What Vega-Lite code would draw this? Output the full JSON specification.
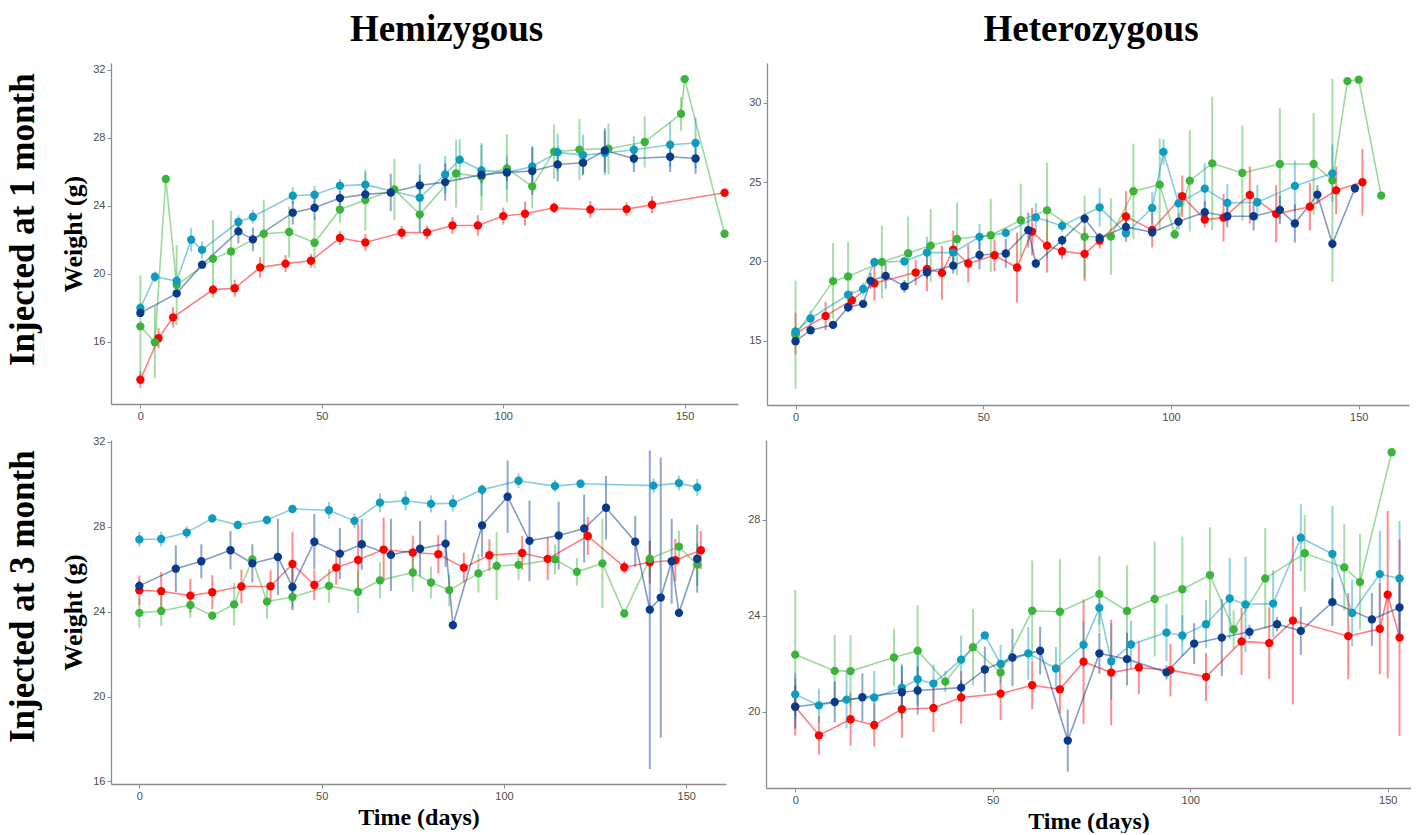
{
"$schema":"https://vega.github.io/schema/vega-lite/v6.json",
"background":"white",
"padding":{"left":5,"top":11,"right":0,"bottom":0},
"config":{"view":{"stroke":null},
"axis":{"grid":false,"domainColor":"#8c8c8c","domainWidth":1.3,"tickColor":"#8c8c8c","tickSize":4,"labelColor":"#4d4d4d","labelFont":"Liberation Sans","labelFontSize":11,"labelPadding":2,"titleFont":"Liberation Serif","titleFontWeight":"bold","titleColor":"black"},
"axisY":{"titleFontSize":26,"titlePadding":6},
"axisX":{"titleFontSize":24,"titlePadding":4},
"title":{"font":"Liberation Serif","fontWeight":"bold","color":"black"}},
"datasets":{"all":[
{"p":"TL","g":"Red","d":0,"w":13.76,"e":0.5},{"p":"TL","g":"Red","d":5,"w":16.2,"e":0.6},{"p":"TL","g":"Red","d":9,"w":17.43,"e":0.6},{"p":"TL","g":"Red","d":20,"w":19.06,"e":0.3},{"p":"TL","g":"Red","d":26,"w":19.14,"e":0.5},{"p":"TL","g":"Red","d":33,"w":20.37,"e":0.6},{"p":"TL","g":"Red","d":40,"w":20.59,"e":0.5},{"p":"TL","g":"Red","d":47,"w":20.76,"e":0.4},{"p":"TL","g":"Red","d":55,"w":22.1,"e":0.4},{"p":"TL","g":"Red","d":62,"w":21.84,"e":0.5},{"p":"TL","g":"Red","d":72,"w":22.41,"e":0.4},{"p":"TL","g":"Red","d":79,"w":22.43,"e":0.4},{"p":"TL","g":"Red","d":86,"w":22.84,"e":0.5},{"p":"TL","g":"Red","d":93,"w":22.84,"e":0.6},{"p":"TL","g":"Red","d":100,"w":23.39,"e":0.5},{"p":"TL","g":"Red","d":106,"w":23.53,"e":0.7},{"p":"TL","g":"Red","d":114,"w":23.88,"e":0.3},{"p":"TL","g":"Red","d":124,"w":23.78,"e":0.5},{"p":"TL","g":"Red","d":134,"w":23.8,"e":0.4},{"p":"TL","g":"Red","d":141,"w":24.06,"e":0.5},{"p":"TL","g":"Red","d":161,"w":24.76,"e":0.2},
{"p":"TL","g":"Green","d":0,"w":16.9,"e":3.0},{"p":"TL","g":"Green","d":4,"w":15.96,"e":2.1},{"p":"TL","g":"Green","d":7,"w":25.57,"e":0.2},{"p":"TL","g":"Green","d":10,"w":19.33,"e":2.35},{"p":"TL","g":"Green","d":20,"w":20.88,"e":2.3},{"p":"TL","g":"Green","d":25,"w":21.31,"e":2.4},{"p":"TL","g":"Green","d":34,"w":22.35,"e":2.0},{"p":"TL","g":"Green","d":41,"w":22.45,"e":1.5},{"p":"TL","g":"Green","d":48,"w":21.82,"e":1.5},{"p":"TL","g":"Green","d":55,"w":23.78,"e":0.8},{"p":"TL","g":"Green","d":62,"w":24.33,"e":1.8},{"p":"TL","g":"Green","d":70,"w":24.96,"e":1.8},{"p":"TL","g":"Green","d":77,"w":23.49,"e":1.1},{"p":"TL","g":"Green","d":87,"w":25.9,"e":2.0},{"p":"TL","g":"Green","d":94,"w":25.7,"e":2.0},{"p":"TL","g":"Green","d":101,"w":26.2,"e":2.0},{"p":"TL","g":"Green","d":108,"w":25.14,"e":1.3},{"p":"TL","g":"Green","d":114,"w":27.18,"e":1.6},{"p":"TL","g":"Green","d":121,"w":27.3,"e":1.8},{"p":"TL","g":"Green","d":129,"w":27.35,"e":1.5},{"p":"TL","g":"Green","d":139,"w":27.75,"e":1.5},{"p":"TL","g":"Green","d":149,"w":29.41,"e":1.0},{"p":"TL","g":"Green","d":150,"w":31.45,"e":0},{"p":"TL","g":"Green","d":161,"w":22.35,"e":0},
{"p":"TL","g":"Cyan","d":0,"w":17.98,"e":0.3},{"p":"TL","g":"Cyan","d":4,"w":19.82,"e":0.3},{"p":"TL","g":"Cyan","d":10,"w":19.57,"e":0.3},{"p":"TL","g":"Cyan","d":14,"w":22.0,"e":0.7},{"p":"TL","g":"Cyan","d":17,"w":21.4,"e":0.5},{"p":"TL","g":"Cyan","d":27,"w":23.04,"e":0.4},{"p":"TL","g":"Cyan","d":31,"w":23.35,"e":0.4},{"p":"TL","g":"Cyan","d":42,"w":24.59,"e":0.5},{"p":"TL","g":"Cyan","d":48,"w":24.65,"e":0.5},{"p":"TL","g":"Cyan","d":55,"w":25.18,"e":0.4},{"p":"TL","g":"Cyan","d":62,"w":25.24,"e":0.7},{"p":"TL","g":"Cyan","d":77,"w":24.47,"e":2.0},{"p":"TL","g":"Cyan","d":84,"w":25.84,"e":1.1},{"p":"TL","g":"Cyan","d":88,"w":26.71,"e":1.2},{"p":"TL","g":"Cyan","d":94,"w":26.08,"e":1.5},{"p":"TL","g":"Cyan","d":101,"w":25.96,"e":1.0},{"p":"TL","g":"Cyan","d":108,"w":26.31,"e":1.2},{"p":"TL","g":"Cyan","d":115,"w":27.14,"e":1.1},{"p":"TL","g":"Cyan","d":122,"w":26.98,"e":1.2},{"p":"TL","g":"Cyan","d":128,"w":27.1,"e":1.3},{"p":"TL","g":"Cyan","d":136,"w":27.29,"e":0.8},{"p":"TL","g":"Cyan","d":146,"w":27.59,"e":1.3},{"p":"TL","g":"Cyan","d":153,"w":27.69,"e":1.5},
{"p":"TL","g":"Navy","d":0,"w":17.69,"e":0.2},{"p":"TL","g":"Navy","d":10,"w":18.84,"e":0.2},{"p":"TL","g":"Navy","d":17,"w":20.53,"e":0.2},{"p":"TL","g":"Navy","d":27,"w":22.49,"e":0.7},{"p":"TL","g":"Navy","d":31,"w":22.02,"e":0.7},{"p":"TL","g":"Navy","d":42,"w":23.59,"e":0.7},{"p":"TL","g":"Navy","d":48,"w":23.88,"e":0.7},{"p":"TL","g":"Navy","d":55,"w":24.45,"e":0.4},{"p":"TL","g":"Navy","d":62,"w":24.67,"e":0.4},{"p":"TL","g":"Navy","d":69,"w":24.78,"e":1.1},{"p":"TL","g":"Navy","d":77,"w":25.2,"e":0.6},{"p":"TL","g":"Navy","d":84,"w":25.39,"e":1.1},{"p":"TL","g":"Navy","d":94,"w":25.82,"e":0.5},{"p":"TL","g":"Navy","d":101,"w":25.96,"e":0.5},{"p":"TL","g":"Navy","d":108,"w":26.04,"e":1.4},{"p":"TL","g":"Navy","d":115,"w":26.43,"e":1.0},{"p":"TL","g":"Navy","d":122,"w":26.53,"e":0.7},{"p":"TL","g":"Navy","d":128,"w":27.25,"e":1.3},{"p":"TL","g":"Navy","d":136,"w":26.78,"e":0.8},{"p":"TL","g":"Navy","d":146,"w":26.88,"e":0.9},{"p":"TL","g":"Navy","d":153,"w":26.78,"e":0.9},
{"p":"TR","g":"Red","d":0,"w":15.46,"e":1.3},{"p":"TR","g":"Red","d":8,"w":16.57,"e":0.9},{"p":"TR","g":"Red","d":15,"w":17.56,"e":0.6},{"p":"TR","g":"Red","d":21,"w":18.63,"e":1.1},{"p":"TR","g":"Red","d":32,"w":19.3,"e":0.8},{"p":"TR","g":"Red","d":35,"w":19.53,"e":1.4},{"p":"TR","g":"Red","d":39,"w":19.28,"e":1.7},{"p":"TR","g":"Red","d":42,"w":20.75,"e":1.2},{"p":"TR","g":"Red","d":46,"w":19.87,"e":1.2},{"p":"TR","g":"Red","d":53,"w":20.39,"e":1.0},{"p":"TR","g":"Red","d":59,"w":19.62,"e":2.2},{"p":"TR","g":"Red","d":63,"w":21.88,"e":1.5},{"p":"TR","g":"Red","d":67,"w":21.0,"e":1.7},{"p":"TR","g":"Red","d":71,"w":20.64,"e":0.5},{"p":"TR","g":"Red","d":77,"w":20.48,"e":1.7},{"p":"TR","g":"Red","d":81,"w":21.32,"e":0.5},{"p":"TR","g":"Red","d":88,"w":22.83,"e":1.6},{"p":"TR","g":"Red","d":95,"w":21.99,"e":1.1},{"p":"TR","g":"Red","d":103,"w":24.11,"e":1.3},{"p":"TR","g":"Red","d":109,"w":22.64,"e":0.5},{"p":"TR","g":"Red","d":114,"w":22.76,"e":1.5},{"p":"TR","g":"Red","d":121,"w":24.19,"e":1.8},{"p":"TR","g":"Red","d":128,"w":23.0,"e":1.8},{"p":"TR","g":"Red","d":137,"w":23.45,"e":1.5},{"p":"TR","g":"Red","d":144,"w":24.48,"e":1.5},{"p":"TR","g":"Red","d":151,"w":24.99,"e":2.1},
{"p":"TR","g":"Green","d":0,"w":15.38,"e":3.4},{"p":"TR","g":"Green","d":10,"w":18.76,"e":2.4},{"p":"TR","g":"Green","d":14,"w":19.05,"e":2.2},{"p":"TR","g":"Green","d":23,"w":19.97,"e":2.3},{"p":"TR","g":"Green","d":30,"w":20.52,"e":2.3},{"p":"TR","g":"Green","d":36,"w":21.0,"e":2.3},{"p":"TR","g":"Green","d":43,"w":21.42,"e":2.3},{"p":"TR","g":"Green","d":52,"w":21.65,"e":2.3},{"p":"TR","g":"Green","d":60,"w":22.6,"e":2.3},{"p":"TR","g":"Green","d":67,"w":23.22,"e":3.0},{"p":"TR","g":"Green","d":77,"w":21.55,"e":2.6},{"p":"TR","g":"Green","d":84,"w":21.57,"e":2.4},{"p":"TR","g":"Green","d":90,"w":24.42,"e":3.0},{"p":"TR","g":"Green","d":97,"w":24.84,"e":2.9},{"p":"TR","g":"Green","d":101,"w":21.71,"e":0.3},{"p":"TR","g":"Green","d":105,"w":25.09,"e":3.2},{"p":"TR","g":"Green","d":111,"w":26.18,"e":4.2},{"p":"TR","g":"Green","d":119,"w":25.57,"e":3.0},{"p":"TR","g":"Green","d":129,"w":26.14,"e":3.5},{"p":"TR","g":"Green","d":138,"w":26.14,"e":3.2},{"p":"TR","g":"Green","d":143,"w":25.11,"e":6.4},{"p":"TR","g":"Green","d":147,"w":31.36,"e":0},{"p":"TR","g":"Green","d":150,"w":31.45,"e":0},{"p":"TR","g":"Green","d":156,"w":24.15,"e":0},
{"p":"TR","g":"Cyan","d":0,"w":15.59,"e":0.3},{"p":"TR","g":"Cyan","d":4,"w":16.41,"e":0.5},{"p":"TR","g":"Cyan","d":14,"w":17.9,"e":0.3},{"p":"TR","g":"Cyan","d":18,"w":18.27,"e":0.4},{"p":"TR","g":"Cyan","d":21,"w":19.95,"e":0.3},{"p":"TR","g":"Cyan","d":29,"w":20.01,"e":0.3},{"p":"TR","g":"Cyan","d":35,"w":20.56,"e":1.0},{"p":"TR","g":"Cyan","d":42,"w":20.56,"e":0.7},{"p":"TR","g":"Cyan","d":49,"w":21.55,"e":0.8},{"p":"TR","g":"Cyan","d":56,"w":21.8,"e":0.3},{"p":"TR","g":"Cyan","d":64,"w":22.78,"e":0.9},{"p":"TR","g":"Cyan","d":71,"w":22.24,"e":0.4},{"p":"TR","g":"Cyan","d":81,"w":23.41,"e":1.2},{"p":"TR","g":"Cyan","d":88,"w":21.78,"e":0.3},{"p":"TR","g":"Cyan","d":95,"w":23.37,"e":1.0},{"p":"TR","g":"Cyan","d":98,"w":26.9,"e":0.8},{"p":"TR","g":"Cyan","d":102,"w":23.66,"e":0.7},{"p":"TR","g":"Cyan","d":109,"w":24.59,"e":1.6},{"p":"TR","g":"Cyan","d":115,"w":23.69,"e":1.2},{"p":"TR","g":"Cyan","d":123,"w":23.73,"e":1.1},{"p":"TR","g":"Cyan","d":133,"w":24.76,"e":1.6},{"p":"TR","g":"Cyan","d":143,"w":25.55,"e":1.8},
{"p":"TR","g":"Navy","d":0,"w":14.98,"e":0.2},{"p":"TR","g":"Navy","d":4,"w":15.67,"e":0.2},{"p":"TR","g":"Navy","d":10,"w":16.01,"e":0.2},{"p":"TR","g":"Navy","d":14,"w":17.12,"e":0.3},{"p":"TR","g":"Navy","d":18,"w":17.33,"e":0.2},{"p":"TR","g":"Navy","d":20,"w":18.78,"e":0.5},{"p":"TR","g":"Navy","d":24,"w":19.09,"e":0.8},{"p":"TR","g":"Navy","d":29,"w":18.44,"e":0.4},{"p":"TR","g":"Navy","d":35,"w":19.32,"e":0.4},{"p":"TR","g":"Navy","d":42,"w":19.74,"e":0.5},{"p":"TR","g":"Navy","d":49,"w":20.41,"e":0.9},{"p":"TR","g":"Navy","d":56,"w":20.5,"e":0.9},{"p":"TR","g":"Navy","d":62,"w":21.97,"e":1.1},{"p":"TR","g":"Navy","d":64,"w":19.87,"e":0.3},{"p":"TR","g":"Navy","d":71,"w":21.34,"e":0.3},{"p":"TR","g":"Navy","d":77,"w":22.7,"e":0.3},{"p":"TR","g":"Navy","d":81,"w":21.48,"e":0.3},{"p":"TR","g":"Navy","d":88,"w":22.18,"e":0.4},{"p":"TR","g":"Navy","d":95,"w":21.84,"e":0.3},{"p":"TR","g":"Navy","d":102,"w":22.51,"e":0.5},{"p":"TR","g":"Navy","d":109,"w":23.1,"e":0.7},{"p":"TR","g":"Navy","d":115,"w":22.85,"e":0.7},{"p":"TR","g":"Navy","d":122,"w":22.85,"e":0.9},{"p":"TR","g":"Navy","d":129,"w":23.25,"e":0.9},{"p":"TR","g":"Navy","d":133,"w":22.39,"e":1.2},{"p":"TR","g":"Navy","d":139,"w":24.21,"e":0.6},{"p":"TR","g":"Navy","d":143,"w":21.11,"e":0.3},{"p":"TR","g":"Navy","d":149,"w":24.61,"e":0.3},
{"p":"BL","g":"Red","d":0,"w":25.0,"e":0.7},{"p":"BL","g":"Red","d":6,"w":24.96,"e":0.9},{"p":"BL","g":"Red","d":14,"w":24.75,"e":0.8},{"p":"BL","g":"Red","d":20,"w":24.91,"e":0.8},{"p":"BL","g":"Red","d":28,"w":25.18,"e":0.8},{"p":"BL","g":"Red","d":36,"w":25.19,"e":0.75},{"p":"BL","g":"Red","d":42,"w":26.24,"e":1.5},{"p":"BL","g":"Red","d":48,"w":25.25,"e":0.7},{"p":"BL","g":"Red","d":54,"w":26.07,"e":0.8},{"p":"BL","g":"Red","d":60,"w":26.43,"e":1.7},{"p":"BL","g":"Red","d":67,"w":26.92,"e":1.5},{"p":"BL","g":"Red","d":75,"w":26.78,"e":0.8},{"p":"BL","g":"Red","d":82,"w":26.7,"e":0.9},{"p":"BL","g":"Red","d":89,"w":26.07,"e":0.7},{"p":"BL","g":"Red","d":96,"w":26.65,"e":0.75},{"p":"BL","g":"Red","d":105,"w":26.76,"e":0.8},{"p":"BL","g":"Red","d":112,"w":26.48,"e":1.0},{"p":"BL","g":"Red","d":123,"w":27.56,"e":0.9},{"p":"BL","g":"Red","d":133,"w":26.09,"e":0.3},{"p":"BL","g":"Red","d":140,"w":26.32,"e":1.0},{"p":"BL","g":"Red","d":147,"w":26.42,"e":1.0},{"p":"BL","g":"Red","d":154,"w":26.89,"e":0.9},
{"p":"BL","g":"Green","d":0,"w":23.94,"e":0.7},{"p":"BL","g":"Green","d":6,"w":24.03,"e":0.7},{"p":"BL","g":"Green","d":14,"w":24.31,"e":0.6},{"p":"BL","g":"Green","d":20,"w":23.81,"e":0.2},{"p":"BL","g":"Green","d":26,"w":24.34,"e":1.0},{"p":"BL","g":"Green","d":31,"w":26.45,"e":0.2},{"p":"BL","g":"Green","d":35,"w":24.47,"e":0.8},{"p":"BL","g":"Green","d":42,"w":24.69,"e":0.5},{"p":"BL","g":"Green","d":52,"w":25.21,"e":0.8},{"p":"BL","g":"Green","d":60,"w":24.93,"e":1.0},{"p":"BL","g":"Green","d":66,"w":25.47,"e":0.85},{"p":"BL","g":"Green","d":75,"w":25.84,"e":0.9},{"p":"BL","g":"Green","d":80,"w":25.37,"e":0.75},{"p":"BL","g":"Green","d":85,"w":25.01,"e":0.75},{"p":"BL","g":"Green","d":93,"w":25.8,"e":0.9},{"p":"BL","g":"Green","d":98,"w":26.15,"e":1.6},{"p":"BL","g":"Green","d":104,"w":26.2,"e":0.7},{"p":"BL","g":"Green","d":114,"w":26.46,"e":0.7},{"p":"BL","g":"Green","d":120,"w":25.87,"e":0.65},{"p":"BL","g":"Green","d":127,"w":26.27,"e":2.1},{"p":"BL","g":"Green","d":133,"w":23.91,"e":0.2},{"p":"BL","g":"Green","d":140,"w":26.49,"e":0.85},{"p":"BL","g":"Green","d":148,"w":27.06,"e":0.75},{"p":"BL","g":"Green","d":153,"w":26.21,"e":1.0},
{"p":"BL","g":"Cyan","d":0,"w":27.4,"e":0.35},{"p":"BL","g":"Cyan","d":6,"w":27.42,"e":0.35},{"p":"BL","g":"Cyan","d":13,"w":27.72,"e":0.3},{"p":"BL","g":"Cyan","d":20,"w":28.39,"e":0.2},{"p":"BL","g":"Cyan","d":27,"w":28.08,"e":0.2},{"p":"BL","g":"Cyan","d":35,"w":28.31,"e":0.2},{"p":"BL","g":"Cyan","d":42,"w":28.83,"e":0.2},{"p":"BL","g":"Cyan","d":52,"w":28.77,"e":0.4},{"p":"BL","g":"Cyan","d":59,"w":28.27,"e":0.35},{"p":"BL","g":"Cyan","d":66,"w":29.13,"e":0.45},{"p":"BL","g":"Cyan","d":73,"w":29.22,"e":0.45},{"p":"BL","g":"Cyan","d":80,"w":29.07,"e":0.4},{"p":"BL","g":"Cyan","d":86,"w":29.1,"e":0.4},{"p":"BL","g":"Cyan","d":94,"w":29.74,"e":0.25},{"p":"BL","g":"Cyan","d":104,"w":30.16,"e":0.35},{"p":"BL","g":"Cyan","d":114,"w":29.91,"e":0.3},{"p":"BL","g":"Cyan","d":121,"w":30.02,"e":0.2},{"p":"BL","g":"Cyan","d":141,"w":29.93,"e":0.35},{"p":"BL","g":"Cyan","d":148,"w":30.05,"e":0.35},{"p":"BL","g":"Cyan","d":153,"w":29.85,"e":0.4},
{"p":"BL","g":"Navy","d":0,"w":25.21,"e":0.25},{"p":"BL","g":"Navy","d":10,"w":26.02,"e":1.1},{"p":"BL","g":"Navy","d":17,"w":26.37,"e":0.8},{"p":"BL","g":"Navy","d":25,"w":26.89,"e":0.9},{"p":"BL","g":"Navy","d":31,"w":26.27,"e":0.9},{"p":"BL","g":"Navy","d":38,"w":26.57,"e":1.8},{"p":"BL","g":"Navy","d":42,"w":25.16,"e":1.1},{"p":"BL","g":"Navy","d":48,"w":27.29,"e":1.3},{"p":"BL","g":"Navy","d":55,"w":26.73,"e":1.2},{"p":"BL","g":"Navy","d":61,"w":27.17,"e":1.2},{"p":"BL","g":"Navy","d":69,"w":26.67,"e":1.7},{"p":"BL","g":"Navy","d":77,"w":26.96,"e":1.3},{"p":"BL","g":"Navy","d":84,"w":27.2,"e":1.1},{"p":"BL","g":"Navy","d":86,"w":23.36,"e":0.2},{"p":"BL","g":"Navy","d":94,"w":28.06,"e":1.5},{"p":"BL","g":"Navy","d":101,"w":29.41,"e":1.7},{"p":"BL","g":"Navy","d":107,"w":27.33,"e":1.9},{"p":"BL","g":"Navy","d":115,"w":27.58,"e":1.6},{"p":"BL","g":"Navy","d":122,"w":27.91,"e":1.6},{"p":"BL","g":"Navy","d":128,"w":28.89,"e":1.5},{"p":"BL","g":"Navy","d":136,"w":27.29,"e":1.2},{"p":"BL","g":"Navy","d":140,"w":24.09,"e":7.5},{"p":"BL","g":"Navy","d":143,"w":24.66,"e":6.6},{"p":"BL","g":"Navy","d":146,"w":26.37,"e":2.0},{"p":"BL","g":"Navy","d":148,"w":23.94,"e":0.2},{"p":"BL","g":"Navy","d":153,"w":26.49,"e":1.6},
{"p":"BR","g":"Red","d":0,"w":20.2,"e":1.2},{"p":"BR","g":"Red","d":6,"w":19.01,"e":0.8},{"p":"BR","g":"Red","d":14,"w":19.68,"e":1.1},{"p":"BR","g":"Red","d":20,"w":19.44,"e":0.9},{"p":"BR","g":"Red","d":27,"w":20.1,"e":1.2},{"p":"BR","g":"Red","d":35,"w":20.15,"e":1.0},{"p":"BR","g":"Red","d":42,"w":20.59,"e":1.1},{"p":"BR","g":"Red","d":52,"w":20.75,"e":1.1},{"p":"BR","g":"Red","d":60,"w":21.1,"e":1.0},{"p":"BR","g":"Red","d":67,"w":20.93,"e":1.0},{"p":"BR","g":"Red","d":73,"w":22.08,"e":2.6},{"p":"BR","g":"Red","d":80,"w":21.63,"e":2.2},{"p":"BR","g":"Red","d":87,"w":21.84,"e":1.1},{"p":"BR","g":"Red","d":95,"w":21.73,"e":1.1},{"p":"BR","g":"Red","d":104,"w":21.45,"e":1.0},{"p":"BR","g":"Red","d":113,"w":22.93,"e":1.4},{"p":"BR","g":"Red","d":120,"w":22.86,"e":1.5},{"p":"BR","g":"Red","d":126,"w":23.8,"e":3.5},{"p":"BR","g":"Red","d":140,"w":23.15,"e":1.8},{"p":"BR","g":"Red","d":148,"w":23.46,"e":1.9},{"p":"BR","g":"Red","d":150,"w":24.88,"e":3.5},{"p":"BR","g":"Red","d":153,"w":23.09,"e":4.1},
{"p":"BR","g":"Green","d":0,"w":22.38,"e":2.7},{"p":"BR","g":"Green","d":10,"w":21.7,"e":1.5},{"p":"BR","g":"Green","d":14,"w":21.69,"e":1.5},{"p":"BR","g":"Green","d":25,"w":22.26,"e":1.2},{"p":"BR","g":"Green","d":31,"w":22.54,"e":1.9},{"p":"BR","g":"Green","d":38,"w":21.25,"e":0.45},{"p":"BR","g":"Green","d":45,"w":22.69,"e":1.6},{"p":"BR","g":"Green","d":52,"w":21.63,"e":0.15},{"p":"BR","g":"Green","d":60,"w":24.21,"e":2.1},{"p":"BR","g":"Green","d":67,"w":24.17,"e":2.2},{"p":"BR","g":"Green","d":77,"w":24.91,"e":1.6},{"p":"BR","g":"Green","d":84,"w":24.2,"e":1.9},{"p":"BR","g":"Green","d":91,"w":24.7,"e":2.4},{"p":"BR","g":"Green","d":98,"w":25.11,"e":2.2},{"p":"BR","g":"Green","d":105,"w":25.7,"e":2.0},{"p":"BR","g":"Green","d":111,"w":23.43,"e":0.8},{"p":"BR","g":"Green","d":119,"w":25.56,"e":2.1},{"p":"BR","g":"Green","d":129,"w":26.61,"e":1.6},{"p":"BR","g":"Green","d":139,"w":26.02,"e":1.8},{"p":"BR","g":"Green","d":143,"w":25.41,"e":2.0},{"p":"BR","g":"Green","d":151,"w":30.83,"e":0},
{"p":"BR","g":"Cyan","d":0,"w":20.72,"e":0.9},{"p":"BR","g":"Cyan","d":6,"w":20.26,"e":0.7},{"p":"BR","g":"Cyan","d":13,"w":20.5,"e":1.2},{"p":"BR","g":"Cyan","d":20,"w":20.59,"e":1.1},{"p":"BR","g":"Cyan","d":27,"w":21.0,"e":1.0},{"p":"BR","g":"Cyan","d":31,"w":21.35,"e":1.1},{"p":"BR","g":"Cyan","d":35,"w":21.17,"e":0.8},{"p":"BR","g":"Cyan","d":42,"w":22.17,"e":1.0},{"p":"BR","g":"Cyan","d":48,"w":23.18,"e":0},{"p":"BR","g":"Cyan","d":52,"w":21.99,"e":0.8},{"p":"BR","g":"Cyan","d":59,"w":22.43,"e":1.1},{"p":"BR","g":"Cyan","d":66,"w":21.8,"e":0.9},{"p":"BR","g":"Cyan","d":73,"w":22.79,"e":1.0},{"p":"BR","g":"Cyan","d":77,"w":24.33,"e":0.7},{"p":"BR","g":"Cyan","d":80,"w":22.1,"e":1.6},{"p":"BR","g":"Cyan","d":85,"w":22.8,"e":1.0},{"p":"BR","g":"Cyan","d":94,"w":23.3,"e":1.2},{"p":"BR","g":"Cyan","d":98,"w":23.18,"e":0.85},{"p":"BR","g":"Cyan","d":104,"w":23.65,"e":1.0},{"p":"BR","g":"Cyan","d":110,"w":24.72,"e":1.7},{"p":"BR","g":"Cyan","d":114,"w":24.47,"e":2.0},{"p":"BR","g":"Cyan","d":121,"w":24.51,"e":1.4},{"p":"BR","g":"Cyan","d":128,"w":27.26,"e":1.4},{"p":"BR","g":"Cyan","d":136,"w":26.58,"e":2.0},{"p":"BR","g":"Cyan","d":141,"w":24.12,"e":1.4},{"p":"BR","g":"Cyan","d":148,"w":25.74,"e":1.8},{"p":"BR","g":"Cyan","d":153,"w":25.56,"e":2.4},
{"p":"BR","g":"Navy","d":0,"w":20.2,"e":0.9},{"p":"BR","g":"Navy","d":10,"w":20.4,"e":0.85},{"p":"BR","g":"Navy","d":17,"w":20.6,"e":1.0},{"p":"BR","g":"Navy","d":27,"w":20.81,"e":1.1},{"p":"BR","g":"Navy","d":31,"w":20.88,"e":1.0},{"p":"BR","g":"Navy","d":42,"w":21.0,"e":0.3},{"p":"BR","g":"Navy","d":48,"w":21.76,"e":0.95},{"p":"BR","g":"Navy","d":55,"w":22.26,"e":1.2},{"p":"BR","g":"Navy","d":62,"w":22.54,"e":1.0},{"p":"BR","g":"Navy","d":69,"w":18.79,"e":1.3},{"p":"BR","g":"Navy","d":77,"w":22.43,"e":0.85},{"p":"BR","g":"Navy","d":84,"w":22.19,"e":1.1},{"p":"BR","g":"Navy","d":94,"w":21.64,"e":0.3},{"p":"BR","g":"Navy","d":101,"w":22.84,"e":0.85},{"p":"BR","g":"Navy","d":108,"w":23.09,"e":1.6},{"p":"BR","g":"Navy","d":115,"w":23.33,"e":0.3},{"p":"BR","g":"Navy","d":122,"w":23.65,"e":0.3},{"p":"BR","g":"Navy","d":128,"w":23.37,"e":1.0},{"p":"BR","g":"Navy","d":136,"w":24.57,"e":1.0},{"p":"BR","g":"Navy","d":146,"w":23.85,"e":1.1},{"p":"BR","g":"Navy","d":153,"w":24.35,"e":1.1}
]},
"spacing":13,
"vconcat":[
{"title":{"text":"Injected at 1 month","orient":"left","fontSize":35,"offset":20,"dx":56},
 "spacing":10,
 "hconcat":[
 {"width":627,"height":341,"title":{"text":"Hemizygous","fontSize":37,"offset":14,"dx":22},
  "data":{"name":"all"},"transform":[{"filter":"datum.p==='TL'"}],
  "encoding":{
   "x":{"field":"d","type":"quantitative","scale":{"domain":[-8.1,164.7],"nice":false,"zero":false},"axis":{"values":[0,50,100,150],"title":null}},
   "y":{"field":"w","type":"quantitative","scale":{"domain":[12.33,32.4],"nice":false,"zero":false},"axis":{"values":[16,20,24,28,32],"title":"Weight (g)"}},
   "color":{"field":"g","type":"nominal","scale":{"domain":["Red","Green","Cyan","Navy"],"range":["#FF0000","#3CB43C","#0E9CBE","#0A3A8A"]},"legend":null}},
  "layer":[
   {"mark":{"type":"errorbar","thickness":2,"opacity":0.45},"encoding":{"yError":{"field":"e"}}},
   {"mark":{"type":"line","opacity":0.5,"strokeWidth":1.6}},
   {"mark":{"type":"point","filled":true,"opacity":1,"size":70}}]},
 {"width":642,"height":342,"title":{"text":"Heterozygous","fontSize":37,"offset":14,"dx":3},
  "data":{"name":"all"},"transform":[{"filter":"datum.p==='TR'"}],
  "encoding":{
   "x":{"field":"d","type":"quantitative","scale":{"domain":[-7.6,163.4],"nice":false,"zero":false},"axis":{"values":[0,50,100,150],"title":null}},
   "y":{"field":"w","type":"quantitative","scale":{"domain":[10.96,32.5],"nice":false,"zero":false},"axis":{"values":[15,20,25,30],"title":null}},
   "color":{"field":"g","type":"nominal","scale":{"domain":["Red","Green","Cyan","Navy"],"range":["#FF0000","#3CB43C","#0E9CBE","#0A3A8A"]},"legend":null}},
  "layer":[
   {"mark":{"type":"errorbar","thickness":2,"opacity":0.45},"encoding":{"yError":{"field":"e"}}},
   {"mark":{"type":"line","opacity":0.5,"strokeWidth":1.6}},
   {"mark":{"type":"point","filled":true,"opacity":1,"size":70}}]}
 ]},
{"title":{"text":"Injected  at 3 month","orient":"left","fontSize":35,"offset":20,"dx":90},
 "spacing":21,
 "hconcat":[
 {"width":615,"height":344,
  "data":{"name":"all"},"transform":[{"filter":"datum.p==='BL'"}],
  "encoding":{
   "x":{"field":"d","type":"quantitative","scale":{"domain":[-7.77,160.9],"nice":false,"zero":false},"axis":{"values":[0,50,100,150],"title":"Time (days)"}},
   "y":{"field":"w","type":"quantitative","scale":{"domain":[15.88,32.08],"nice":false,"zero":false},"axis":{"values":[16,20,24,28,32],"title":"Weight (g)"}},
   "color":{"field":"g","type":"nominal","scale":{"domain":["Red","Green","Cyan","Navy"],"range":["#FF0000","#3CB43C","#0E9CBE","#0A3A8A"]},"legend":null}},
  "layer":[
   {"mark":{"type":"errorbar","thickness":2,"opacity":0.45},"encoding":{"yError":{"field":"e"}}},
   {"mark":{"type":"line","opacity":0.5,"strokeWidth":1.6}},
   {"mark":{"type":"point","filled":true,"opacity":1,"size":70}}]},
 {"width":645,"height":348,
  "data":{"name":"all"},"transform":[{"filter":"datum.p==='BR'"}],
  "encoding":{
   "x":{"field":"d","type":"quantitative","scale":{"domain":[-7.4,155.9],"nice":false,"zero":false},"axis":{"values":[0,50,100,150],"title":"Time (days)"}},
   "y":{"field":"w","type":"quantitative","scale":{"domain":[16.81,31.34],"nice":false,"zero":false},"axis":{"values":[20,24,28],"title":null}},
   "color":{"field":"g","type":"nominal","scale":{"domain":["Red","Green","Cyan","Navy"],"range":["#FF0000","#3CB43C","#0E9CBE","#0A3A8A"]},"legend":null}},
  "layer":[
   {"mark":{"type":"errorbar","thickness":2,"opacity":0.45},"encoding":{"yError":{"field":"e"}}},
   {"mark":{"type":"line","opacity":0.5,"strokeWidth":1.6}},
   {"mark":{"type":"point","filled":true,"opacity":1,"size":70}}]}
 ]}
]
}
